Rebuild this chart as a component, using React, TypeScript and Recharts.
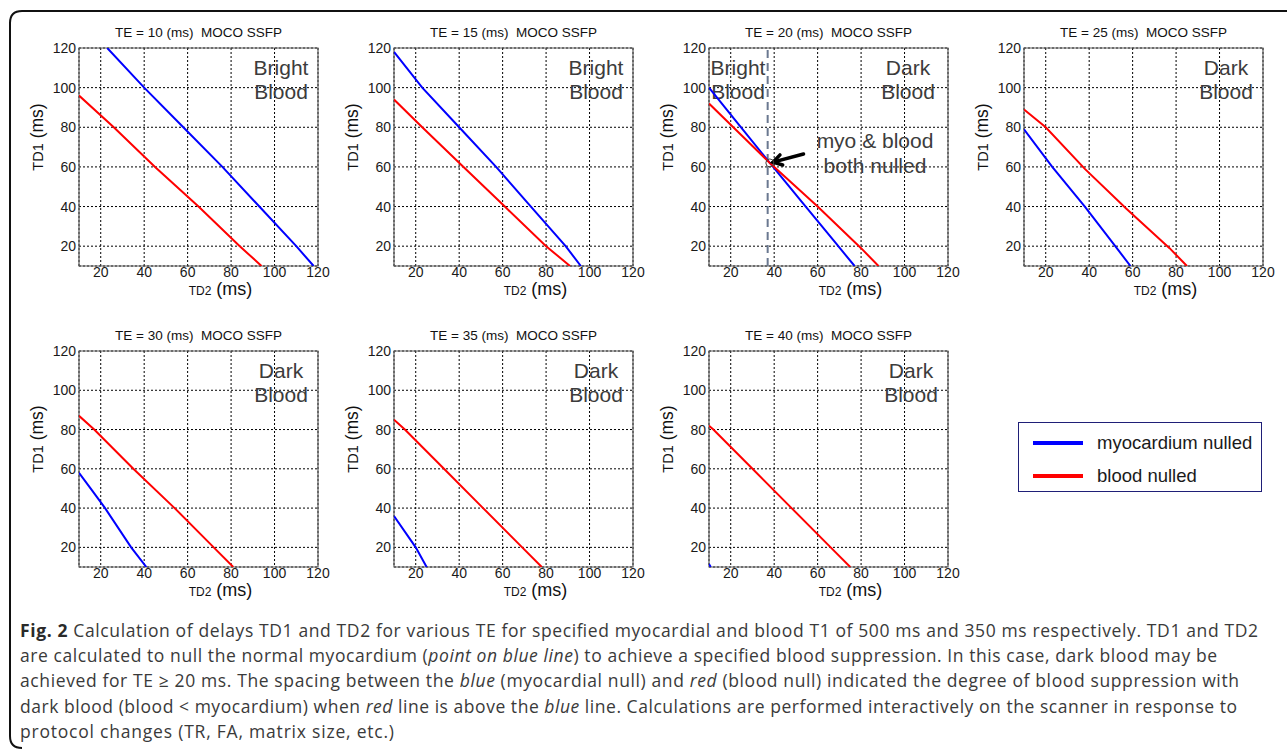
import React from 'react';
import {
  LineChart,
  Line,
  XAxis,
  YAxis,
  CartesianGrid,
  ReferenceArea,
  ReferenceLine,
  ReferenceDot,
  Legend,
} from 'recharts';

type Pt = { x: number; y: number };

// TD2 (x) vs TD1 (y) in ms
const axisTicks = [20, 40, 60, 80, 100, 120];
const teValues = [10, 15, 20, 25, 30, 35, 40];

const myoTE10: Pt[] = [{ x: 23, y: 120 }, { x: 40, y: 100 }, { x: 58, y: 80 }, { x: 76, y: 60 }, { x: 93, y: 40 }, { x: 110, y: 20 }, { x: 118, y: 10 }];
const bloodTE10: Pt[] = [{ x: 10, y: 96 }, { x: 26, y: 80 }, { x: 45, y: 60 }, { x: 65, y: 40 }, { x: 84, y: 20 }, { x: 94, y: 10 }];

const myoTE15: Pt[] = [{ x: 10, y: 118 }, { x: 23, y: 100 }, { x: 40, y: 80 }, { x: 57, y: 60 }, { x: 73, y: 40 }, { x: 89, y: 20 }, { x: 96, y: 10 }];
const bloodTE15: Pt[] = [{ x: 10, y: 94 }, { x: 23, y: 80 }, { x: 42, y: 60 }, { x: 61, y: 40 }, { x: 80, y: 20 }, { x: 91, y: 10 }];

const myoTE20: Pt[] = [{ x: 10, y: 100 }, { x: 24, y: 81 }, { x: 38, y: 62 }, { x: 53, y: 42 }, { x: 68, y: 22 }, { x: 77, y: 10 }];
const bloodTE20: Pt[] = [{ x: 10, y: 92 }, { x: 24, y: 77 }, { x: 38, y: 62 }, { x: 60, y: 40 }, { x: 80, y: 19 }, { x: 88, y: 10 }];

const myoTE25: Pt[] = [{ x: 10, y: 79 }, { x: 23, y: 60 }, { x: 38, y: 40 }, { x: 52, y: 20 }, { x: 59, y: 10 }];
const bloodTE25: Pt[] = [{ x: 10, y: 89 }, { x: 20, y: 80 }, { x: 38, y: 59 }, { x: 57, y: 39 }, { x: 77, y: 19 }, { x: 85, y: 10 }];

const myoTE30: Pt[] = [{ x: 10, y: 58 }, { x: 16, y: 49 }, { x: 22, y: 40 }, { x: 34, y: 20 }, { x: 41, y: 10 }];
const bloodTE30: Pt[] = [{ x: 10, y: 87 }, { x: 17, y: 80 }, { x: 35, y: 60 }, { x: 54, y: 40 }, { x: 72, y: 20 }, { x: 81, y: 10 }];

const myoTE35: Pt[] = [{ x: 10, y: 36 }, { x: 20, y: 20 }, { x: 25, y: 10 }];
const bloodTE35: Pt[] = [{ x: 10, y: 85 }, { x: 15, y: 80 }, { x: 33, y: 60 }, { x: 51, y: 40 }, { x: 69, y: 20 }, { x: 78, y: 10 }];

const myoTE40: Pt[] = [{ x: 10, y: 11.5 }, { x: 10.8, y: 10 }];
const bloodTE40: Pt[] = [{ x: 10, y: 82 }, { x: 12, y: 80 }, { x: 30, y: 60 }, { x: 48, y: 40 }, { x: 66, y: 20 }, { x: 75, y: 10 }];

const myoSeries = [myoTE10, myoTE15, myoTE20, myoTE25, myoTE30, myoTE35, myoTE40];
const bloodSeries = [bloodTE10, bloodTE15, bloodTE20, bloodTE25, bloodTE30, bloodTE35, bloodTE40];
const regimes = ['bright', 'bright', 'both', 'dark', 'dark', 'dark', 'dark'];
const seriesNames = ['myocardium nulled', 'blood nulled'];

// TE = 20 crossing point
const nullPoint = { x: 38, y: 62 };
const nullTD2 = 37;

const FONT = '"Liberation Sans", Arial, sans-serif';
const BLUE = '#0000ff';
const RED = '#ff0000';

const PLOT_W = 239;
const colLefts = [79, 394, 709, 1024];
const rowTops = [48, 351];
const rowHeights = [218, 216];
const M = { top: 40, right: 20, left: 5, bottom: 5 };
const Y_W = 55;
const X_H = 40;

function BloodText({ cx, y, word }: { cx: number; y: number; word: string }) {
  return (
    <text fontFamily={FONT} fontSize={21} fill="#3c3c3c" textAnchor="middle">
      <tspan x={cx} y={y + 27}>{word}</tspan>
      <tspan x={cx} y={y + 51}>Blood</tspan>
    </text>
  );
}

function Overlay({ viewBox, te, regime }: any) {
  const { x, y, width, height } = viewBox;
  const right = x + width;
  return (
    <g>
      <text x={x + width / 2} y={y - 11} textAnchor="middle" fontFamily={FONT} fontSize={13.5} fill="#111">
        {`TE = ${te} (ms)\u00a0 MOCO SSFP`}
      </text>
      <text x={x + width / 2 + 22} y={y + height + 29} textAnchor="middle" fontFamily={FONT} fill="#111">
        <tspan fontSize={12}>TD2</tspan>
        <tspan fontSize={18}>{' (ms)'}</tspan>
      </text>
      <text
        transform={`translate(${x - 36}, ${y + height / 2 - 20}) rotate(-90)`}
        textAnchor="middle"
        fontFamily={FONT}
        fill="#111"
      >
        <tspan fontSize={14.5}>TD1</tspan>
        <tspan fontSize={17.5}>{' (ms)'}</tspan>
      </text>
      {regime === 'bright' && <BloodText cx={right - 37} y={y} word="Bright" />}
      {regime === 'dark' && <BloodText cx={right - 37} y={y} word="Dark" />}
      {regime === 'both' && (
        <>
          <BloodText cx={x + 29} y={y} word="Bright" />
          <BloodText cx={right - 40} y={y} word="Dark" />
          <text fontFamily={FONT} fontSize={21} fill="#3c3c3c" textAnchor="middle">
            <tspan x={x + 166} y={y + 100}>myo &amp; blood</tspan>
            <tspan x={x + 166} y={y + 125}>both nulled</tspan>
          </text>
        </>
      )}
    </g>
  );
}

function Arrow(props: any) {
  const { x1, y1, x2, y2 } = props;
  const ang = Math.atan2(y2 - y1, x2 - x1);
  const head = 10;
  const a1 = ang + Math.PI - 0.55;
  const a2 = ang + Math.PI + 0.55;
  return (
    <g stroke="#000" strokeWidth={3.5} strokeLinecap="round" fill="none">
      <line x1={x1} y1={y1} x2={x2} y2={y2} />
      <polyline
        points={`${x2 + head * Math.cos(a1)},${y2 + head * Math.sin(a1)} ${x2},${y2} ${x2 + head * Math.cos(a2)},${y2 + head * Math.sin(a2)}`}
      />
    </g>
  );
}

function LegendBox(props: any) {
  const items = [...(props.payload ?? [])].sort(
    (a: any, b: any) => seriesNames.indexOf(a.value) - seriesNames.indexOf(b.value)
  );
  return (
    <div
      style={{
        width: 244,
        height: 70,
        boxSizing: 'border-box',
        border: '1.5px solid #1f1f77',
        background: '#fff',
        paddingTop: 3,
        fontFamily: FONT,
      }}
    >
      {items.map((it: any) => (
        <div key={it.value} style={{ display: 'flex', alignItems: 'center', height: 33 }}>
          <span style={{ display: 'inline-block', width: 50, height: 4, marginLeft: 14, background: it.color }} />
          <span style={{ marginLeft: 14, fontSize: 18.5, color: '#1a1a1a' }}>{it.value}</span>
        </div>
      ))}
    </div>
  );
}

function Panel({ idx }: { idx: number }) {
  const col = idx % 4;
  const row = Math.floor(idx / 4);
  const plotLeft = colLefts[col];
  const plotTop = rowTops[row];
  const plotH = rowHeights[row];
  const withLegend = idx === 6;
  const extra = withLegend ? 320 : 0;
  const width = M.left + Y_W + PLOT_W + M.right + extra;
  const height = M.top + plotH + X_H + M.bottom;
  const te = teValues[idx];
  const regime = regimes[idx];
  const tick = { fontSize: 14, fill: '#1a1a1a', fontFamily: FONT };

  return (
    <div style={{ position: 'absolute', left: plotLeft - M.left - Y_W, top: plotTop - M.top }}>
      <LineChart
        width={width}
        height={height}
        margin={{ top: M.top, right: M.right + extra, left: M.left, bottom: M.bottom }}
      >
        <CartesianGrid stroke="#000" strokeDasharray="2 2" strokeWidth={1} />
        <XAxis
          dataKey="x"
          type="number"
          domain={[10, 120]}
          ticks={axisTicks}
          allowDataOverflow
          height={X_H}
          axisLine={false}
          tickLine={false}
          tickSize={0}
          tickMargin={1}
          tick={tick}
        />
        <YAxis
          dataKey="y"
          type="number"
          domain={[10, 120]}
          ticks={axisTicks}
          allowDataOverflow
          width={Y_W}
          axisLine={false}
          tickLine={false}
          tickSize={0}
          tickMargin={3}
          tick={tick}
        />
        <ReferenceArea
          x1={10}
          x2={120}
          y1={10}
          y2={120}
          fill="none"
          fillOpacity={0}
          stroke="#5a5a5a"
          strokeWidth={1.2}
          label={(p: any) => <Overlay viewBox={p.viewBox} te={te} regime={regime} />}
        />
        {regime === 'both' && (
          <ReferenceLine x={nullTD2} stroke="#6a7890" strokeWidth={2} strokeDasharray="8 5" />
        )}
        <Line
          data={myoSeries[idx]}
          dataKey="y"
          name={seriesNames[0]}
          type="linear"
          stroke={BLUE}
          strokeWidth={2}
          dot={false}
          isAnimationActive={false}
        />
        <Line
          data={bloodSeries[idx]}
          dataKey="y"
          name={seriesNames[1]}
          type="linear"
          stroke={RED}
          strokeWidth={2}
          dot={false}
          isAnimationActive={false}
        />
        {regime === 'both' && (
          <ReferenceDot x={nullPoint.x} y={nullPoint.y} r={4} fill="none" stroke="#444" strokeWidth={1} />
        )}
        {regime === 'both' && (
          <ReferenceLine
            segment={[
              { x: 53.5, y: 66.5 },
              { x: 39.5, y: 62.4 },
            ]}
            shape={Arrow}
          />
        )}
        {withLegend && (
          <Legend
            layout="vertical"
            align="center"
            verticalAlign="middle"
            content={LegendBox}
            wrapperStyle={{ left: 1018 - (plotLeft - M.left - Y_W), top: 422 - (plotTop - M.top), width: 244, height: 70 }}
          />
        )}
      </LineChart>
    </div>
  );
}

const capLines = [
  { end: 1258, parts: [{ t: 'Fig. 2', b: true }, { t: ' Calculation of delays TD1 and TD2 for various TE for specified myocardial and blood T1 of 500 ms and 350 ms respectively. TD1 and TD2' }] },
  { end: 1217, parts: [{ t: 'are calculated to null the normal myocardium (' }, { t: 'point on blue line', i: true }, { t: ') to achieve a specified blood suppression. In this case, dark blood may be' }] },
  { end: 1239, parts: [{ t: 'achieved for TE \u2265 20 ms. The spacing between the ' }, { t: 'blue', i: true }, { t: ' (myocardial null) and ' }, { t: 'red', i: true }, { t: ' (blood null) indicated the degree of blood suppression with' }] },
  { end: 1237, parts: [{ t: 'dark blood (blood < myocardium) when ' }, { t: 'red', i: true }, { t: ' line is above the ' }, { t: 'blue', i: true }, { t: ' line. Calculations are performed interactively on the scanner in response to' }] },
  { end: 394, parts: [{ t: 'protocol changes (TR, FA, matrix size, etc.)' }] },
];

export default function App() {
  return (
    <div style={{ position: 'absolute', left: 0, top: 0, width: 1287, height: 756, background: '#fff', overflow: 'hidden' }}>
      <svg width={1287} height={756} style={{ position: 'absolute', left: 0, top: 0 }}>
        <path d="M1287,11 L22,11 Q10,11 10,23 L10,736 Q10,748 22,748" fill="none" stroke="#111" strokeWidth={2} />
        {capLines.map((ln, i) => (
          <text
            key={i}
            x={20}
            y={637 + i * 25.2}
            textLength={ln.end - 20}
            lengthAdjust="spacing"
            fontFamily='"Open Sans", sans-serif'
            fontSize={17.5}
            fill="#3a3a3a"
            xmlSpace="preserve"
          >
            {ln.parts.map((p: any, j: number) => (
              <tspan key={j} fontWeight={p.b ? 700 : 400} fontStyle={p.i ? 'italic' : 'normal'} fill={p.b ? '#2a2a2a' : undefined}>
                {p.t}
              </tspan>
            ))}
          </text>
        ))}
      </svg>
      {teValues.map((_, i) => (
        <Panel key={i} idx={i} />
      ))}
    </div>
  );
}
